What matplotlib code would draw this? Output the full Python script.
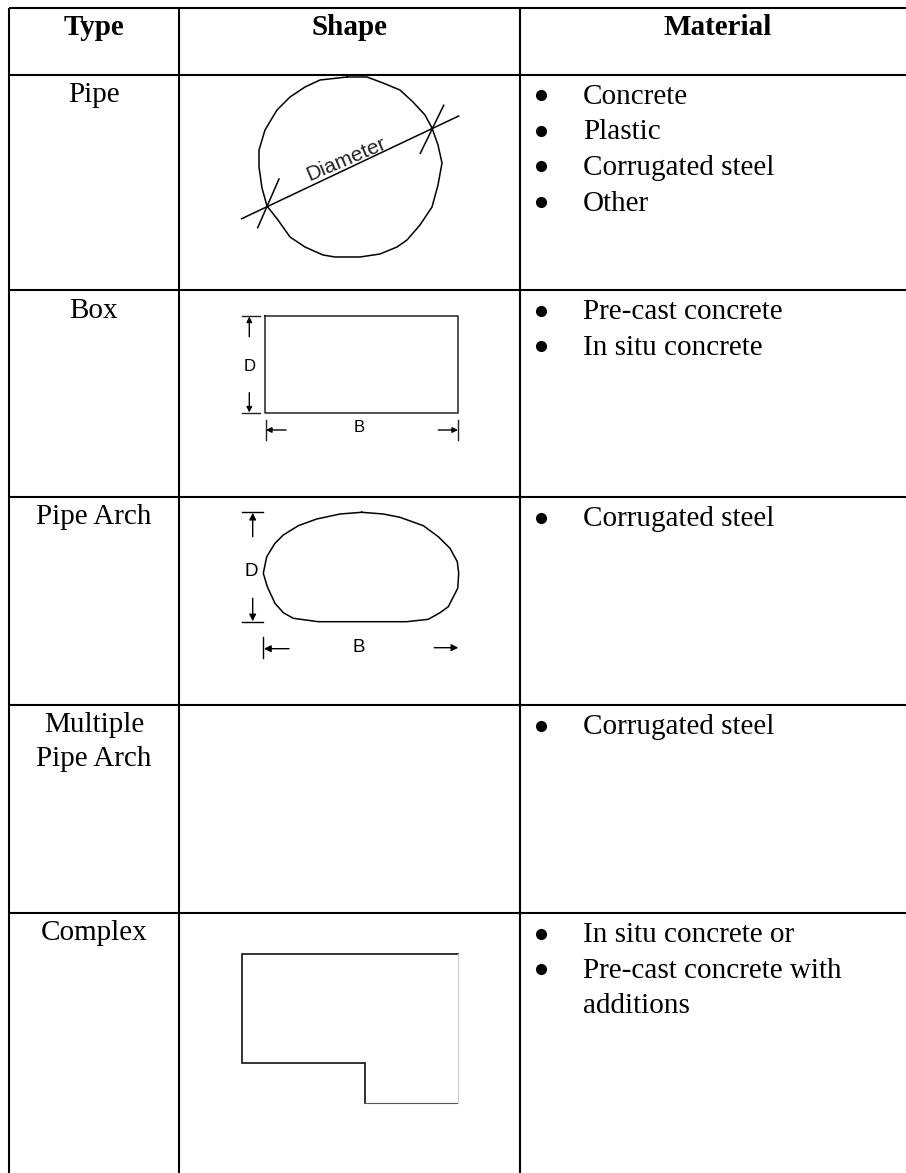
import matplotlib
matplotlib.use("Agg")
import matplotlib.pyplot as plt

# Table text
headers = ["Type", "Shape", "Material"]
types = [["Pipe"], ["Box"], ["Pipe Arch"], ["Multiple", "Pipe Arch"], ["Complex"]]
materials = [
    [("Concrete", True), ("Plastic", True), ("Corrugated steel", True), ("Other", True)],
    [("Pre-cast concrete", True), ("In situ concrete", True)],
    [("Corrugated steel", True)],
    [("Corrugated steel", True)],
    [("In situ concrete or", True), ("Pre-cast concrete with", True), ("additions", False)],
]

# Table grid, in image pixels
col_lines = [8.5, 179, 520]
row_lines = [7.5, 74.5, 290, 497, 705, 913]

# Shape outlines
pipe_x = [347, 367, 383, 400, 413, 425, 432, 438, 442, 438, 432, 420, 407, 397, 380, 360,
          335, 323, 305, 290, 278, 267, 262, 259, 259, 265, 277, 290, 305, 320, 347]
pipe_y = [77, 77, 83, 90, 102, 115, 128, 145, 163, 185, 207, 225, 240, 247, 254, 257,
          257, 255, 247, 237, 220, 206, 188, 167, 150, 130, 110, 97, 87, 80, 77]
diameter_x = [241.7, 458.7]
diameter_y = [218.7, 116]
tick1_x = [257.7, 279]
tick1_y = [227.7, 179]
tick2_x = [420.3, 443.7]
tick2_y = [153.3, 105.3]

box_x = [265, 458.3, 458.3, 265, 265]
box_y = [315.7, 315.7, 413.3, 413.3, 315.7]

arch_x = [361.7, 383.3, 400, 423.3, 438.3, 450, 457.3, 458.7, 457.7, 448.3, 440, 428.3, 406.7,
          318.3, 293.3, 283.3, 275, 267.3, 263.3, 266.7, 275, 283.3, 298.3, 316.7, 340, 361.7]
arch_y = [512.3, 514, 517.3, 525.7, 536.7, 548.3, 561.7, 573.3, 588.3, 606.7, 612.7, 619.3, 621.7,
          621.7, 618.3, 612.7, 603.3, 586.7, 573.3, 556.7, 543.3, 535, 525.7, 519, 514, 512.3]

complex_x = [458.3, 241.7, 241.7, 365, 365]
complex_y = [953.7, 953.7, 1063.3, 1063.3, 1103.3]

SERIF = "Liberation Serif"
SANS = "Liberation Sans"
TEXT_SIZE = 21
LINE_STEP = 35.7

fig = plt.figure(figsize=(9.06, 11.73), dpi=100)
ax = fig.add_axes([0, 0, 1, 1])
ax.set_xlim(0, 906)
ax.set_ylim(1173, 0)
ax.axis("off")

# Grid
for y in row_lines:
    ax.plot([8.5, 906], [y, y], color="black", lw=1.5, solid_capstyle="butt")
for x in col_lines:
    ax.plot([x, x], [7.5, 1173], color="black", lw=1.5, solid_capstyle="butt")

# Headers
for label, x in zip(headers, [94, 349.5, 718]):
    ax.text(x, 35, label, family=SERIF, weight="bold", size=TEXT_SIZE, ha="center", va="baseline")

# Type column
for lines, top in zip(types, row_lines[1:]):
    for i, line in enumerate(lines):
        ax.text(94, top + 27.5 + i * 34, line, family=SERIF, size=TEXT_SIZE, ha="center", va="baseline")

# Material column
for items, top in zip(materials, row_lines[1:]):
    for i, (line, bullet) in enumerate(items):
        base = top + 29 + i * LINE_STEP
        ax.text(582.7, base, line, family=SERIF, size=TEXT_SIZE, ha="left", va="baseline")
        if bullet:
            ax.plot(540.7, base - 8.5, "o", color="black", ms=7)

# Pipe
ax.plot(pipe_x, pipe_y, color="black", lw=1.1)
ax.plot(diameter_x, diameter_y, color="black", lw=1.1)
ax.plot(tick1_x, tick1_y, color="black", lw=1.1)
ax.plot(tick2_x, tick2_y, color="black", lw=1.1)
ax.text(346, 159.5, "Diameter", family=SANS, size=15, rotation=23, rotation_mode="anchor",
        ha="center", va="center", color="#222222")


def dim_arrow(x0, y0, x1, y1, scale=8):
    ax.annotate("", xy=(x1, y1), xytext=(x0, y0),
                arrowprops=dict(arrowstyle="-|>", color="black", lw=1, mutation_scale=scale,
                                shrinkA=0, shrinkB=0))


# Box
ax.plot(box_x, box_y, color="#222222", lw=1.1)
ax.plot([241.7, 260], [316, 316], color="#222222", lw=1)
ax.plot([241.7, 260], [412.7, 412.7], color="#222222", lw=1)
dim_arrow(249.3, 336.7, 249.3, 316.5)
dim_arrow(249.3, 392.7, 249.3, 412.5)
ax.text(249.3, 366.7, "D", family=SANS, size=12, ha="center", va="center")
ax.text(359, 427.5, "B", family=SANS, size=12, ha="center", va="center")
ax.plot([265.7, 265.7], [420, 440], color="#222222", lw=1)
ax.plot([458, 458], [420, 440], color="#222222", lw=1)
dim_arrow(286, 430, 266, 430)
dim_arrow(438.3, 430, 458, 430)

# Pipe arch
ax.plot(arch_x, arch_y, color="black", lw=1.1)
ax.plot([241.7, 263.3], [512.3, 512.3], color="black", lw=1)
ax.plot([241.7, 263.3], [621.7, 621.7], color="black", lw=1)
dim_arrow(252.7, 536.7, 252.7, 512.8, 10)
dim_arrow(252.7, 598.3, 252.7, 621.3, 10)
ax.text(251, 571.7, "D", family=SANS, size=13.5, ha="center", va="center")
ax.text(359, 648, "B", family=SANS, size=13.5, ha="center", va="center")
ax.plot([263.3, 263.3], [636.7, 658.3], color="black", lw=1)
dim_arrow(289, 648.7, 264, 648.7, 10)
dim_arrow(434.3, 647.7, 458.3, 647.7, 10)

# Complex
ax.plot(complex_x, complex_y, color="#111111", lw=1.2, solid_joinstyle="miter")
ax.plot([365, 458.3], [1103.3, 1103.3], color="#555555", lw=0.8)
ax.plot([458.3, 458.3], [953.7, 1103.3], color="#cccccc", lw=0.8)

fig.savefig("out.png", dpi=100)
